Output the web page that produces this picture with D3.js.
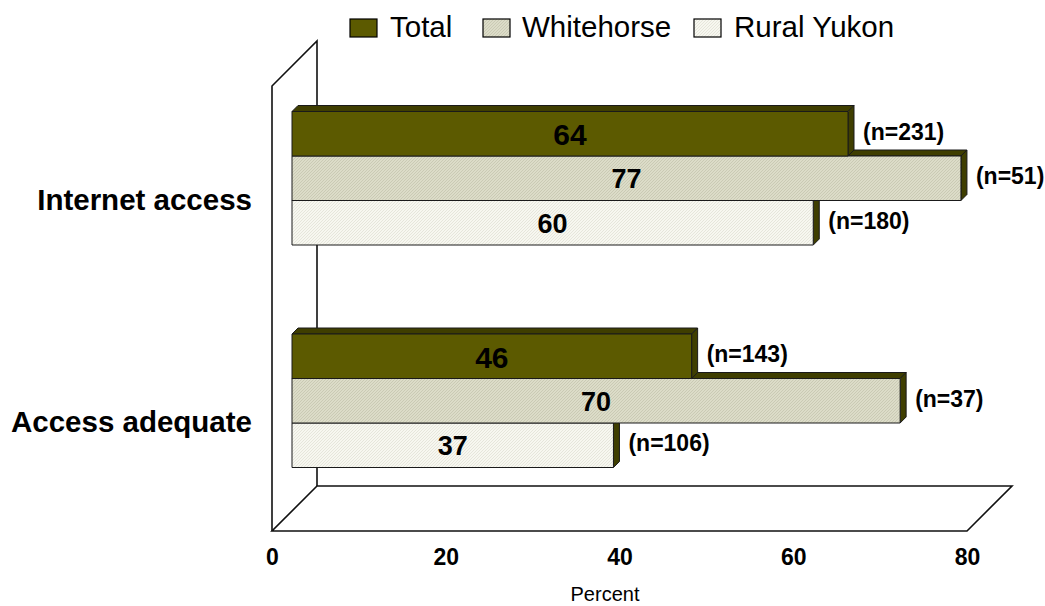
<!DOCTYPE html>
<html>
<head>
<meta charset="utf-8">
<script src="https://cdn.jsdelivr.net/npm/d3@7"></script>
<style>
  html, body { margin: 0; padding: 0; background: #fff; }
  svg { display: block; font-family: Arial, "Liberation Sans", sans-serif; }
</style>
</head>
<body>
<svg id="chart" width="1045" height="606"></svg>
<script>
// Survey results: share with Internet access, and share saying access is adequate
const categories = ["Internet access", "Access adequate"];
const seriesNames = ["Total", "Whitehorse", "Rural Yukon"];
const totalValues = [64, 46];
const whitehorseValues = [77, 70];
const ruralValues = [60, 37];
const totalN = ["(n=231)", "(n=143)"];
const whitehorseN = ["(n=51)", "(n=37)"];
const ruralN = ["(n=180)", "(n=106)"];
const xTicks = [0, 20, 40, 60, 80];

const values = [totalValues, whitehorseValues, ruralValues];
const nLabels = [totalN, whitehorseN, ruralN];

const svg = d3.select("#chart");

// front plane of the 3D box and its depth
const plot = { left: 272, right: 967, top: 86, bottom: 531 };
const depth = { dx: 45, dy: -45 };
const barShift = { dx: 20, dy: -19 };   // bars sit part way back into the box
const barDepth = 6;

const x = d3.scaleLinear().domain([0, 80]).range([plot.left, plot.right]);
const y = d3.scaleBand().domain(categories).range([plot.top, plot.bottom])
  .paddingInner(0.4).paddingOuter(0.2);
const ySub = d3.scaleBand().domain(seriesNames).range([0, y.bandwidth()]);

// fills
const defs = svg.append("defs");
function hatch(id, base, line) {
  const p = defs.append("pattern").attr("id", id).attr("patternUnits", "userSpaceOnUse")
    .attr("width", 3).attr("height", 3);
  p.append("rect").attr("width", 3).attr("height", 3).attr("fill", base);
  p.append("path").attr("d", "M0,3 L3,0 M-1,1 L1,-1 M2,4 L4,2")
    .attr("stroke", line).attr("stroke-width", 0.8);
}
hatch("fillWhitehorse", "#dcdcc8", "#c5c5ae");
hatch("fillRural", "#f7f7f0", "#e2e2d6");
const frontFill = { "Total": "#5c5a00", "Whitehorse": "url(#fillWhitehorse)", "Rural Yukon": "url(#fillRural)" };
const sideFill = "#3f3e00";
const edge = "#1a1a1a";

// walls and floor
const g3d = svg.append("g").attr("fill", "none").attr("stroke", "#111").attr("stroke-width", 1.6);
const P = (px, py) => px + "," + py;
g3d.append("polygon")
  .attr("fill", "#fff")
  .attr("points", [
    P(plot.left, plot.bottom), P(plot.right, plot.bottom),
    P(plot.right + depth.dx, plot.bottom + depth.dy), P(plot.left + depth.dx, plot.bottom + depth.dy)
  ].join(" "));
g3d.append("path")
  .attr("d", `M${plot.left},${plot.bottom} L${plot.left},${plot.top} L${plot.left + depth.dx},${plot.top + depth.dy} L${plot.left + depth.dx},${plot.bottom + depth.dy}`);

// bars: drawn bottom row first so upper bars overlap the top faces below them
const bars = svg.append("g");
categories.forEach((cat, ci) => {
  seriesNames.slice().reverse().forEach(s => {
    const si = seriesNames.indexOf(s);
    const v = values[si][ci];
    const x0 = x(0) + barShift.dx;
    const x1 = x(v) + barShift.dx;
    const y0 = y(cat) + ySub(s) + barShift.dy;
    const h = ySub.bandwidth();
    const g = bars.append("g").attr("stroke", edge).attr("stroke-width", 1).attr("stroke-linejoin", "round");
    // top face
    g.append("polygon").attr("fill", sideFill)
      .attr("points", [P(x0, y0), P(x0 + barDepth, y0 - barDepth), P(x1 + barDepth, y0 - barDepth), P(x1, y0)].join(" "));
    // side face
    g.append("polygon").attr("fill", sideFill)
      .attr("points", [P(x1, y0), P(x1 + barDepth, y0 - barDepth), P(x1 + barDepth, y0 + h - barDepth), P(x1, y0 + h)].join(" "));
    // front face
    g.append("rect").attr("x", x0).attr("y", y0).attr("width", x1 - x0).attr("height", h)
      .attr("fill", frontFill[s]);
  });
});

// value labels inside bars and sample sizes beside them
const labels = svg.append("g").attr("font-weight", "bold").attr("fill", "#000");
categories.forEach((cat, ci) => {
  seriesNames.forEach((s, si) => {
    const v = values[si][ci];
    const x0 = x(0) + barShift.dx;
    const x1 = x(v) + barShift.dx;
    const yc = y(cat) + ySub(s) + barShift.dy + ySub.bandwidth() / 2;
    labels.append("text")
      .attr("x", (x0 + x1) / 2).attr("y", yc + 1)
      .attr("text-anchor", "middle").attr("dominant-baseline", "central")
      .attr("font-size", si === 0 ? 30 : 27)
      .text(v);
    labels.append("text")
      .attr("x", x1 + 15).attr("y", yc - 2)
      .attr("dominant-baseline", "central")
      .attr("font-size", 23)
      .text(nLabels[si][ci]);
  });
});

// category labels
svg.append("g").selectAll("text").data(categories).join("text")
  .attr("x", 252).attr("y", d => y(d) + y.bandwidth() / 2 + 2)
  .attr("text-anchor", "end").attr("dominant-baseline", "central")
  .attr("font-size", 29.5).attr("font-weight", "bold")
  .text(d => d);

// x axis
const xAxis = svg.append("g").attr("transform", "translate(0,549)")
  .call(d3.axisBottom(x).tickValues(xTicks).tickSize(0).tickPadding(0));
xAxis.select(".domain").remove();
xAxis.selectAll("text").attr("font-size", 23).attr("font-weight", "bold")
  .attr("font-family", "Arial, 'Liberation Sans', sans-serif").attr("fill", "#000");

svg.append("text").attr("x", 605).attr("y", 594)
  .attr("text-anchor", "middle").attr("dominant-baseline", "central")
  .attr("font-size", 20).text("Percent");

// legend
const legendBoxX = [350, 483, 694];
const legendTextX = [390, 522, 734];
const legend = svg.append("g");
seriesNames.forEach((s, i) => {
  legend.append("rect").attr("x", legendBoxX[i]).attr("y", 19).attr("width", 27).attr("height", 18)
    .attr("fill", frontFill[s]).attr("stroke", "#000").attr("stroke-width", 1.2);
  legend.append("text").attr("x", legendTextX[i]).attr("y", 37)
    .attr("font-size", 29.5).text(s);
});
</script>
</body>
</html>
